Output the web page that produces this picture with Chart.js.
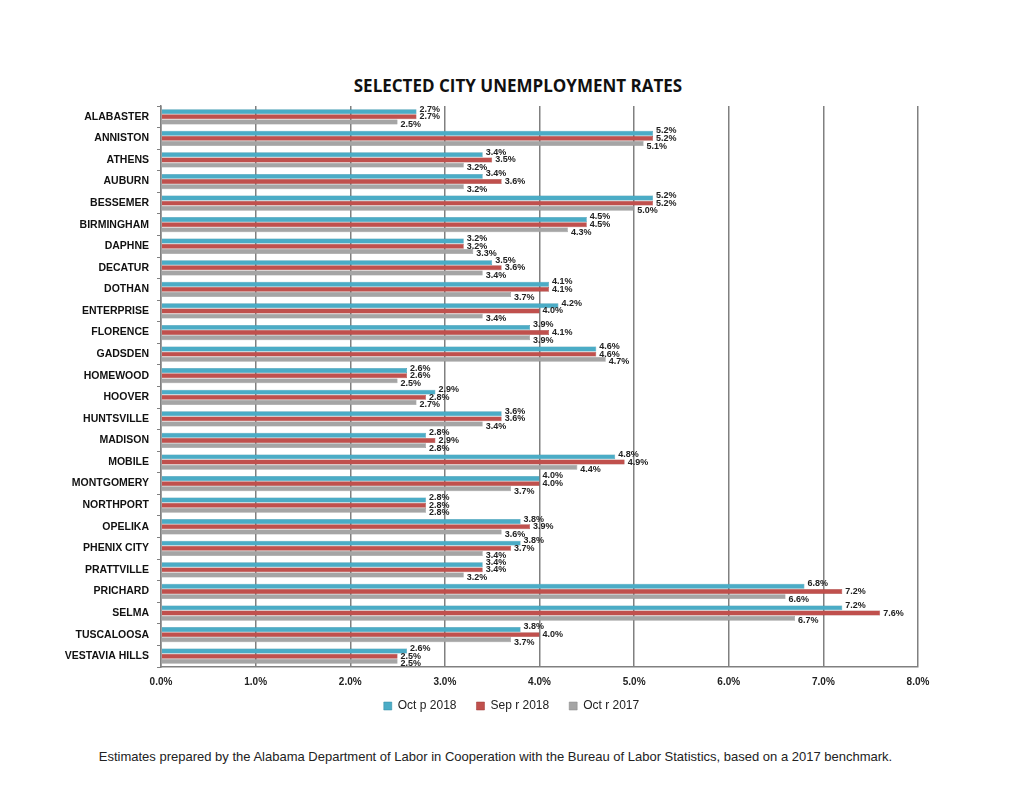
<!DOCTYPE html>
<html>
<head>
<meta charset="utf-8">
<script src="https://cdn.jsdelivr.net/npm/chart.js@4/dist/chart.umd.min.js"></script>
<style>
  body { margin: 0; background: #fff; width: 1024px; height: 792px; position: relative; overflow: hidden; }
  #wrap { position: absolute; left: 0; top: 0; width: 1024px; height: 743px; }
  #title { position: absolute; left: 0; width: 1036px; top: 74px; text-align: center;
    font: bold 17px "Open Sans", "Liberation Sans", sans-serif; color: #111; }
  #note { position: absolute; left: 0; width: 991px; top: 749px; text-align: center;
    font: 13px "Liberation Sans", Arial, sans-serif; color: #222; }
</style>
</head>
<body>
<div id="title">SELECTED CITY UNEMPLOYMENT RATES</div>
<div id="wrap"><canvas id="myChart"></canvas></div>
<div id="note">Estimates prepared by the Alabama Department of Labor in Cooperation with the Bureau of Labor Statistics, based on a 2017 benchmark.</div>
<script>
const cities = ["ALABASTER", "ANNISTON", "ATHENS", "AUBURN", "BESSEMER", "BIRMINGHAM", "DAPHNE",
  "DECATUR", "DOTHAN", "ENTERPRISE", "FLORENCE", "GADSDEN", "HOMEWOOD", "HOOVER", "HUNTSVILLE",
  "MADISON", "MOBILE", "MONTGOMERY", "NORTHPORT", "OPELIKA", "PHENIX CITY", "PRATTVILLE",
  "PRICHARD", "SELMA", "TUSCALOOSA", "VESTAVIA HILLS"];

const oct2018 = [2.7, 5.2, 3.4, 3.4, 5.2, 4.5, 3.2, 3.5, 4.1, 4.2, 3.9, 4.6, 2.6, 2.9, 3.6,
  2.8, 4.8, 4.0, 2.8, 3.8, 3.8, 3.4, 6.8, 7.2, 3.8, 2.6];
const sep2018 = [2.7, 5.2, 3.5, 3.6, 5.2, 4.5, 3.2, 3.6, 4.1, 4.0, 4.1, 4.6, 2.6, 2.8, 3.6,
  2.9, 4.9, 4.0, 2.8, 3.9, 3.7, 3.4, 7.2, 7.6, 4.0, 2.5];
const oct2017 = [2.5, 5.1, 3.2, 3.2, 5.0, 4.3, 3.3, 3.4, 3.7, 3.4, 3.9, 4.7, 2.5, 2.7, 3.4,
  2.8, 4.4, 3.7, 2.8, 3.6, 3.4, 3.2, 6.6, 6.7, 3.7, 2.5];

const seriesNames = ["Oct p 2018", "Sep r 2018", "Oct r 2017"];
const xTicks = [0, 1, 2, 3, 4, 5, 6, 7, 8];

const narrow = '"Liberation Sans Narrow", "Liberation Sans", Arial, sans-serif';

// value labels next to each bar end
const barLabels = {
  id: "barLabels",
  afterDatasetsDraw(chart) {
    const ctx = chart.ctx;
    const shift = [-2.5, 0, 2.5];
    ctx.save();
    ctx.font = "bold 9px " + narrow;
    ctx.fillStyle = "#222";
    ctx.textBaseline = "middle";
    chart.data.datasets.forEach((ds, i) => {
      chart.getDatasetMeta(i).data.forEach((bar, j) => {
        ctx.fillText(ds.data[j].toFixed(1) + "%", bar.x + 3, bar.y + shift[i]);
      });
    });
    ctx.restore();
  },
};

// move the legend box: a bit left of the plot centre and up close to the tick labels
const legendShift = {
  id: "legendShift",
  afterUpdate(chart) {
    const lg = chart.legend;
    const dx = (chart.chartArea.left + chart.chartArea.right) / 2 - (lg.left + lg.right) / 2 - 28;
    const dy = -17;
    lg.left += dx;
    lg.right += dx;
    lg.top += dy;
    lg.bottom += dy;
  },
};

const myChart = new Chart(document.getElementById("myChart"), {
  type: "bar",
  data: {
    labels: cities,
    datasets: [
      { label: seriesNames[0], data: oct2018, backgroundColor: "#4bacc6", borderColor: "#2f8aa3", borderWidth: 0.5 },
      { label: seriesNames[1], data: sep2018, backgroundColor: "#c0504d", borderColor: "#9c3533", borderWidth: 0.5 },
      { label: seriesNames[2], data: oct2017, backgroundColor: "#a5a5a5", borderColor: "#878787", borderWidth: 0.5 },
    ],
  },
  options: {
    indexAxis: "y",
    responsive: true,
    maintainAspectRatio: false,
    animation: false,
    categoryPercentage: 0.72,
    barPercentage: 0.95,
    layout: { padding: { left: 61, right: 106, top: 106, bottom: 4 } },
    scales: {
      x: {
        min: 0,
        max: 8,
        afterBuildTicks: (s) => { s.ticks = xTicks.map((v) => ({ value: v })); },
        ticks: {
          callback: (v) => v.toFixed(1) + "%",
          font: { family: narrow, size: 10, weight: "bold" },
          color: "#222",
          padding: 9,
        },
        grid: { color: "#808080", lineWidth: 1.5, drawTicks: false },
        border: { display: true, color: "#808080", width: 1.5 },
      },
      y: {
        afterFit: (s) => { s.width = 100; },
        ticks: {
          font: { family: narrow, size: 10.5, weight: "bold" },
          color: "#111",
          padding: 8,
          autoSkip: false,
        },
        grid: { drawOnChartArea: false, color: "#808080", tickLength: 4 },
        border: { display: true, color: "#808080", width: 1.5 },
      },
    },
    plugins: {
      legend: {
        position: "bottom",
        labels: {
          boxWidth: 8,
          boxHeight: 8,
          padding: 20,
          font: { family: narrow, size: 12 },
          color: "#222",
        },
      },
      tooltip: { enabled: false },
    },
  },
  plugins: [barLabels, legendShift],
});
</script>
</body>
</html>
